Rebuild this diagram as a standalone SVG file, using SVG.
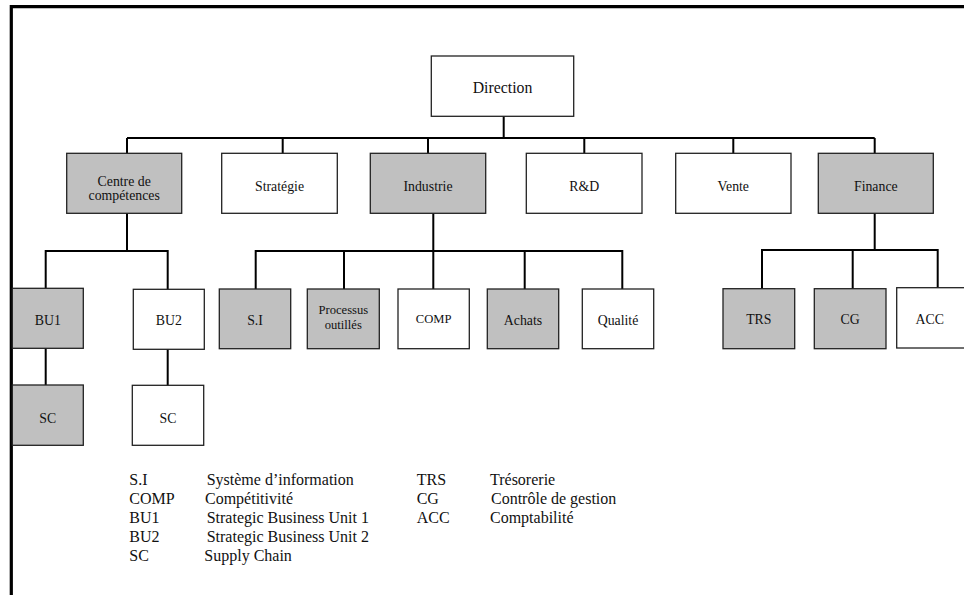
<svg xmlns="http://www.w3.org/2000/svg" width="964" height="595" viewBox="0 0 964 595" font-family="'Liberation Serif', 'Times New Roman', serif">
<style>
.b{stroke:#222;stroke-width:1.3;fill:#fff}
.g{fill:#c0c0c0}
.c{stroke:#000;stroke-width:2;fill:none}
text{font-family:"Liberation Serif","Times New Roman",serif;fill:#111}
.t{font-size:13.8px;text-anchor:middle}
.s{font-size:12.6px;text-anchor:middle}
.l{font-size:16px}
</style>
<rect width="964" height="595" fill="#fff"/>
<path d="M11.3 595 V6.7 H964" stroke="#000" stroke-width="3.2" fill="none"/>
<g id="connectors">
<path class="c" d="M503.7 116 V138 M127 138 H874.7 M127 138 V153 M282.7 138 V153 M428 138 V153 M584.3 138 V153 M733.3 138 V153 M874.7 138 V153"/>
<path class="c" d="M127 213 V251 M45.7 288 V251 H167.7 V289 M45.7 348 V385 M167.7 349 V386"/>
<path class="c" d="M433.3 213 V251 M255.7 289 V251 H622.3 V289 M344 251 V289 M433.3 251 V289 M524.7 251 V289"/>
<path class="c" d="M874.7 213 V250 M762 289 V250 H937.7 V288 M852.7 250 V289"/>
</g>
<g id="direction"><rect class="b" x="431.3" y="56" width="142.4" height="60.3"/><text x="502.5" y="92.7" font-size="15.8" text-anchor="middle">Direction</text></g>
<g id="centre"><rect class="b g" x="66.7" y="153.3" width="115" height="60"/><text class="t" x="124.2" y="186.2">Centre de</text><text class="t" x="124.2" y="199.9">compétences</text></g>
<g id="strategie"><rect class="b" x="221.7" y="153.3" width="115.6" height="60"/><text class="t" x="279.5" y="190.7">Stratégie</text></g>
<g id="industrie"><rect class="b g" x="370.3" y="153.3" width="115.4" height="60"/><text class="t" x="428" y="190.7">Industrie</text></g>
<g id="rd"><rect class="b" x="526.3" y="153.3" width="115.7" height="60"/><text class="t" x="584.2" y="190.7">R&amp;D</text></g>
<g id="vente"><rect class="b" x="675.7" y="153.3" width="115.3" height="60"/><text class="t" x="733.3" y="190.7">Vente</text></g>
<g id="finance"><rect class="b g" x="818.3" y="153.3" width="115" height="60"/><text class="t" x="875.8" y="190.7">Finance</text></g>
<g id="bu1"><rect class="b g" x="12.3" y="288.3" width="71" height="60"/><text class="t" x="47.8" y="325">BU1</text></g>
<g id="bu2"><rect class="b" x="133.3" y="289.3" width="71" height="60"/><text class="t" x="168.8" y="325">BU2</text></g>
<g id="sc1"><rect class="b g" x="12.3" y="385" width="71" height="60.3"/><text class="t" x="47.8" y="422.7">SC</text></g>
<g id="sc2"><rect class="b" x="132.3" y="385.3" width="71.4" height="60"/><text class="t" x="168" y="422.7">SC</text></g>
<g id="si"><rect class="b g" x="219.3" y="289" width="71.4" height="59.7"/><text class="t" x="255" y="325">S.I</text></g>
<g id="processus"><rect class="b g" x="307.3" y="289" width="72" height="59.7"/><text class="s" x="343.3" y="314.3">Processus</text><text class="s" x="343.3" y="329.3">outillés</text></g>
<g id="comp"><rect class="b" x="398" y="289" width="71.3" height="59.7"/><text class="s" x="433.7" y="322.7">COMP</text></g>
<g id="achats"><rect class="b g" x="487.3" y="289" width="71.4" height="59.7"/><text class="t" x="523" y="325">Achats</text></g>
<g id="qualite"><rect class="b" x="582.3" y="289" width="71.4" height="59.7"/><text class="t" x="618" y="325">Qualité</text></g>
<g id="trs"><rect class="b g" x="723" y="288.7" width="71.7" height="60"/><text class="t" x="758.8" y="324.3">TRS</text></g>
<g id="cg"><rect class="b g" x="814.3" y="288.7" width="71.7" height="60"/><text class="t" x="850.2" y="324.3">CG</text></g>
<g id="acc"><rect class="b" x="896.7" y="287.7" width="72" height="60.3"/><text class="t" x="929.8" y="324.3">ACC</text></g>
<g id="legend">
<text class="l" x="129.3" y="485">S.I</text><text class="l" x="206.7" y="485">Système d’information</text>
<text class="l" x="129.3" y="504">COMP</text><text class="l" x="205" y="504">Compétitivité</text>
<text class="l" x="129.3" y="522.7">BU1</text><text class="l" x="206.7" y="522.7">Strategic Business Unit 1</text>
<text class="l" x="129.3" y="541.7">BU2</text><text class="l" x="206.7" y="541.7">Strategic Business Unit 2</text>
<text class="l" x="129.3" y="560.7">SC</text><text class="l" x="204.3" y="560.7">Supply Chain</text>
<text class="l" x="416.7" y="485">TRS</text><text class="l" x="490" y="485">Trésorerie</text>
<text class="l" x="416.7" y="504">CG</text><text class="l" x="491" y="504">Contrôle de gestion</text>
<text class="l" x="416.7" y="522.7">ACC</text><text class="l" x="490" y="522.7">Comptabilité</text>
</g>
</svg>
